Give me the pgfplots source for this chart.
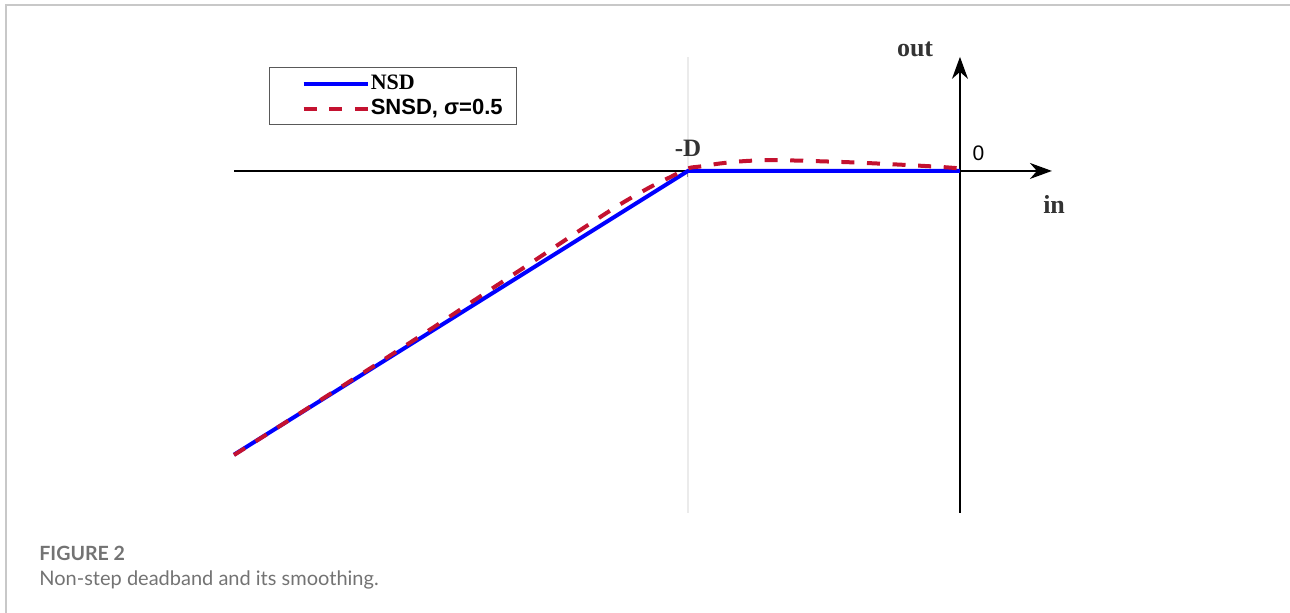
\documentclass[border=0pt]{standalone}
\usepackage{pgfplots}
\pgfplotsset{compat=1.18}
\usepackage{fontspec}
\setmainfont{Liberation Serif}
\newfontfamily\arial{Liberation Sans}
\newfontfamily\lato{Lato}
\usetikzlibrary{arrows.meta}
\definecolor{nsdblue}{RGB}{0,0,255}
\definecolor{snsdred}{RGB}{196,18,48}
\definecolor{labelgray}{RGB}{51,51,51}
\definecolor{framegray}{RGB}{200,200,200}

\begin{document}
\begin{tikzpicture}
% page frame and caption (1 unit = 0.5pt, y downwards)
\begin{scope}[x=0.5pt,y=-0.5pt]
  \path[use as bounding box] (0,0) rectangle (1290,613);
  \draw[line width=0.8pt, framegray] (6,613) -- (6,5) -- (1290,5);
  \node[anchor=base west, inner sep=0pt, font=\lato\bfseries\fontsize{9.8}{11}\selectfont, text=black!55] at (39,561) {FIGURE 2};
  \node[anchor=base west, inner sep=0pt, font=\lato\fontsize{10}{12}\selectfont, text=black!55] at (39,586) {Non-step deadband and its smoothing.};
\end{scope}

\begin{axis}[
  at={(117pt,-256.5pt)}, anchor=south west,
  x=136pt, y=85pt,
  xmin=-2.669, xmax=0.338, ymin=-2.012, ymax=0.671,
  axis lines=middle,
  axis line style={line width=0.75pt, -{Stealth[length=11pt,width=8pt,inset=3.5pt]}},
  xtick=\empty, ytick=\empty,
  clip=false,
  legend style={
    at={(axis description cs:0.0428,0.978)}, anchor=north west,
    draw=black!65, line width=0.6pt,
    font=\fontsize{11}{13}\selectfont,
    inner xsep=6.5pt, inner ysep=2.5pt,
    nodes={inner xsep=0.6pt, inner ysep=0pt, text height=8.5pt, text depth=2.5pt},
    row sep=1.5pt,
    cells={anchor=west},
  },
  legend image code/.code={
    \path (-9.5pt,0pt);
    \draw[#1] (0pt,0pt) -- (32pt,0pt);
  },
]
  % guide at the deadband edge
  \draw[black!8, line width=1pt] (axis cs:-1,-2.012) -- (axis cs:-1,0.671);
  \draw[black!45, line width=0.5pt] (axis cs:-1,0) -- ++(0pt,-3pt);

  % non-step deadband
  \addplot[nsdblue, line width=2pt] coordinates {
    (-2.669,-1.669) (-1,0) (0,0)
  };
  \addlegendentry{\textbf{NSD}}

  % smoothed non-step deadband
  \addplot[snsdred, line width=2pt, dash pattern=on 6.5pt off 6.3pt, smooth, tension=0.5] coordinates {
    (-2.669,-1.671) (-2.500,-1.500) (-2.316,-1.312) (-2.132,-1.124)
    (-1.949,-0.934) (-1.765,-0.739) (-1.581,-0.545) (-1.397,-0.349)
    (-1.250,-0.197) (-1.140,-0.096) (-1.066,-0.037) (-1.000,0.015)
    (-0.956,0.026) (-0.882,0.044) (-0.809,0.056) (-0.724,0.063)
    (-0.625,0.062) (-0.515,0.057) (-0.404,0.051) (-0.294,0.043)
    (-0.184,0.034) (-0.074,0.024) (0,0.015)
  };
  \addlegendentry{\arial\bfseries SNSD, σ=0.5}

  % axis annotations
  \node[font=\bfseries\fontsize{12.5}{14}\selectfont, text=labelgray] at (axis cs:-1,0.135) {-D};
  \node[anchor=base, font=\bfseries\fontsize{13}{15}\selectfont, text=labelgray] at (axis cs:-0.165,0.671) {out};
  \node[anchor=base, font=\bfseries\fontsize{13}{15}\selectfont, text=labelgray] at (axis cs:0.346,-0.253) {in};
  \node[anchor=base, font=\arial\fontsize{10.5}{12}\selectfont] at (axis cs:0.068,0.059) {0};
\end{axis}
\end{tikzpicture}
\end{document}
